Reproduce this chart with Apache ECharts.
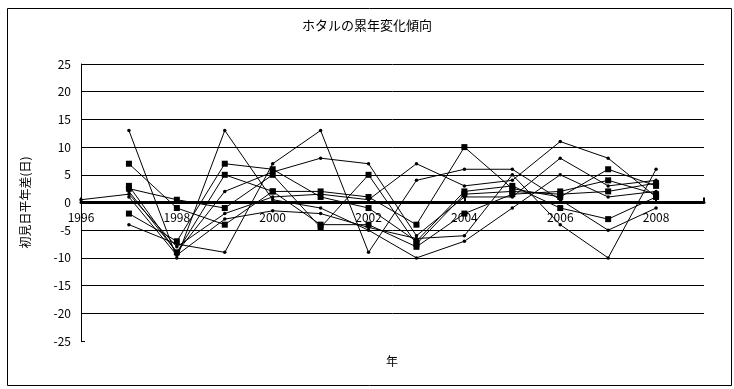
<!DOCTYPE html>
<html>
<head>
<meta charset="utf-8">
<script src="https://cdn.jsdelivr.net/npm/echarts@6/dist/echarts.min.js"></script>
<style>html,body{margin:0;padding:0;background:#fff;}#c{width:734px;height:389px;}</style>
</head>
<body>
<div id="c"></div>
<script>
const years = [1996,1997,1998,1999,2000,2001,2002,2003,2004,2005,2006,2007,2008];
const s1 = [null, 13, -10, 13, 0.5, -1, -5, -10, -7, -1, 5, 1, 2];
const s2 = [null, 7, -1, -4, 2, 2, 1, -4, 10, 2.5, 1, 6, 3];
const s3 = [null, -2, -7, 7, 6, 1, -1, -7, 2, 3, -1, -3, 1];
const s4 = [null, 2, -9, 2, 5.5, 8, 7, -6, 1, 1, 8, 3, 4];
const s5 = [null, 3, -9, 5, 2, -4, -4, -8, -2, 1.5, 2, 4, 1.5];
const s6 = [0.5, 1.5, -8, -2, 1, 1.5, 0.5, 7, 3, 4, 11, 8, 1];
const s7 = [null, 1, -9.5, -3, -1.5, -2, -4.5, -6.5, -6, 5, -4, -10, 6];
const s8 = [null, -4, -7.5, -9, 7, 13, -9, 4, 6, 6, 0.5, -5, -1];
const s9 = [null, 2.5, 0.5, -1, 5, -4.5, 5, -7.5, 1.5, 2, 1.5, 2, 3.5];
const seriesList = [
  {name:'s1', vals:s1, sym:'circle'},
  {name:'s2', vals:s2, sym:'rect'},
  {name:'s3', vals:s3, sym:'rect'},
  {name:'s4', vals:s4, sym:'circle'},
  {name:'s5', vals:s5, sym:'rect'},
  {name:'s6', vals:s6, sym:'circle'},
  {name:'s7', vals:s7, sym:'circle'},
  {name:'s8', vals:s8, sym:'circle'},
  {name:'s9', vals:s9, sym:'rect'}
];
const title = 'ホタルの累年変化傾向';
const yName = '初見日平年差(日)';
const xName = '年';
const font = '"Noto Sans CJK JP", "Liberation Sans", sans-serif';

const chart = echarts.init(document.getElementById('c'), null, {renderer:'canvas'});
chart.setOption({
  animation: false,
  backgroundColor: '#fff',
  title: {text: title, left: 'center', top: 14, textStyle: {fontSize: 13, fontWeight: 'normal', color: '#000', fontFamily: font}},
  grid: {left: 81, right: 30, top: 64, bottom: 48, containLabel: false},
  xAxis: {
    type: 'value', min: 1996, max: 2009, interval: 2,
    offset: -138.5,
    axisLine: {onZero: false, lineStyle: {color: '#000', width: 3}},
    axisTick: {show: true, inside: true, length: 5, lineStyle: {color: '#000', width: 2}},
    axisLabel: {color: '#000', fontSize: 12, fontFamily: font, margin: 9,
      formatter: v => (v % 2 === 0 && v < 2009) ? String(v) : ''},
    splitLine: {show: false}
  },
  yAxis: {
    type: 'value', min: -25, max: 25, interval: 5,
    name: yName, nameLocation: 'middle', nameRotate: 90, nameGap: 50,
    nameTextStyle: {color: '#000', fontSize: 12, fontFamily: font},
    axisLine: {show: true, onZero: false, lineStyle: {color: '#000', width: 1}},
    axisTick: {show: true, inside: true, length: 4, lineStyle: {color: '#000'}},
    axisLabel: {color: '#000', fontSize: 12, fontFamily: font, margin: 10},
    splitLine: {show: true, showMinLine: false, lineStyle: {color: '#000', width: 1}}
  },
  graphic: [
    {type: 'rect', left: 5, top: 6, shape: {width: 724, height: 377}, style: {fill: 'none', stroke: '#000', lineWidth: 1}, silent: true},
    {type: 'text', left: 386, top: 355, style: {text: xName, fill: '#000', font: '12px ' + font}}
  ],
  series: seriesList.map(s => ({
    name: s.name, type: 'line',
    data: years.map((y, i) => [y, s.vals[i]]),
    symbol: s.sym, symbolSize: s.sym === 'rect' ? 6 : 3.5,
    showAllSymbol: true,
    lineStyle: {color: '#000', width: 1},
    itemStyle: {color: '#000', borderWidth: 0},
    connectNulls: false
  }))
});
</script>
</body>
</html>
